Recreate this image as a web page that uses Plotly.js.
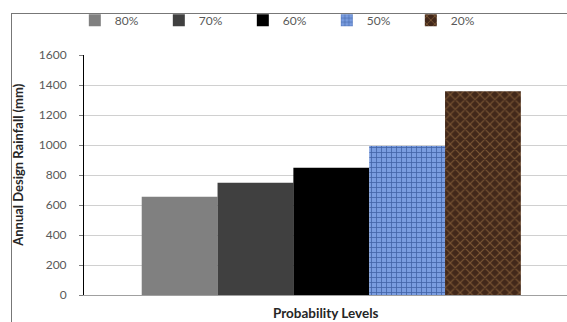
<!DOCTYPE html>
<html><head><meta charset="utf-8">
<script src="https://cdn.plot.ly/plotly-3.0.1.min.js"></script>
<style>html,body{margin:0;padding:0;background:#fff;overflow:hidden}
#frame{position:absolute;left:11px;top:13px;width:700px;height:500px;border-left:1px solid #777;border-top:1px solid #777;pointer-events:none}
#plot{position:absolute;left:0;top:0;width:567px;height:322px}</style>
</head><body>
<div id="plot"></div><div id="frame"></div>
<script>
const levels = ["80%", "70%", "60%", "50%", "20%"];
const rainfall = [655, 748, 848, 993, 1358];
const category = ["Probability Levels"];
const yTicks = [0, 200, 400, 600, 800, 1000, 1200, 1400, 1600];

const fills = [
  {color: "#808080"},
  {color: "#404040"},
  {color: "#000000"},
  {color: "#7597db", pattern: {shape: "+", bgcolor: "#7a9de0", fgcolor: "#4465a8", size: 5, solidity: 0.3}},
  {color: "#4a2d15", pattern: {shape: "x", bgcolor: "#42281a", fgcolor: "#7a5634", size: 7, solidity: 0.3}}
];

const traces = levels.map((lv, i) => ({
  type: "bar",
  name: lv,
  x: category,
  y: [rainfall[i]],
  marker: Object.assign({line: {width: 0}}, fills[i]),
  hoverinfo: "none"
}));

const layout = {
  width: 567, height: 322,
  margin: {l: 84, r: 0, t: 55, b: 27},
  paper_bgcolor: "#fff", plot_bgcolor: "#fff",
  font: {family: "Lato, 'Open Sans', sans-serif", size: 11, color: "#595959"},
  barmode: "group", bargap: 0.215, bargroupgap: 0,
  showlegend: true,
  legend: {orientation: "h", x: -0.019, y: 1.145, xanchor: "left", yanchor: "middle",
           entrywidth: 39, entrywidthmode: "pixels", itemwidth: 30,
           font: {size: 12, color: "#595959"}, bgcolor: "rgba(0,0,0,0)", traceorder: "normal"},
  xaxis: {range: [-0.512, 0.488], showticklabels: false, ticks: "", showgrid: false,
          showline: true, linecolor: "#a0a0a0", linewidth: 1, zeroline: false, fixedrange: true},
  yaxis: {range: [0, 1600], tickvals: yTicks, ticks: "outside", ticklen: 4, tickcolor: "#808080",
          ticklabelstandoff: 10,
          showline: true, linecolor: "#000", linewidth: 1, gridcolor: "#d0d0d0", gridwidth: 1,
          zeroline: false, tickfont: {size: 12, color: "#595959"}, fixedrange: true},
  annotations: [
    {text: "<b>Annual Design Rainfall (mm)</b>", xref: "paper", yref: "paper", x: -0.137, y: 0.542,
     textangle: -90, showarrow: false, xanchor: "center", yanchor: "middle",
     font: {size: 13, color: "#262626"}},
    {text: "<b>Probability Levels</b>", xref: "paper", yref: "paper", x: 0.5, y: -0.075,
     showarrow: false, xanchor: "center", yanchor: "middle", font: {size: 13.5, color: "#262626"}}
  ]
};

Plotly.newPlot("plot", traces, layout, {displayModeBar: false, staticPlot: true});
</script>
</body></html>
